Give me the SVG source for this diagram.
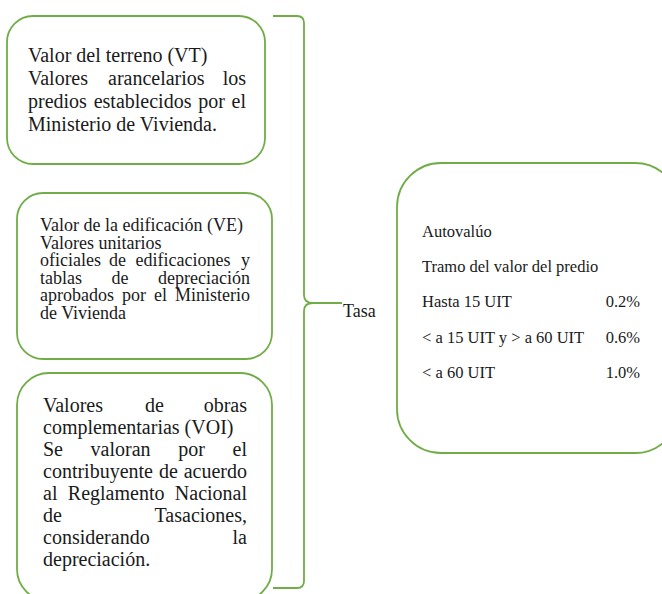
<svg xmlns="http://www.w3.org/2000/svg" width="662" height="594" viewBox="0 0 662 594">
<style>
.box{fill:#fff;stroke:#70ad47;stroke-width:1.8}
.conn{fill:none;stroke:#70ad47;stroke-width:1.8}
text{font-family:"Liberation Serif","Times New Roman",serif;fill:#1a1a1a}
.t20{font-size:20px}
.t18{font-size:18px}
.t17{font-size:16.5px}
.e{text-anchor:end}
</style>
<rect width="662" height="594" fill="#fff"/>
<g id="vt">
<rect class="box" x="7" y="16" width="258" height="148" rx="26"/>
<text class="t20" x="28" y="62">Valor del terreno (VT)</text>
<text class="t20" y="85"><tspan x="28">Valores</tspan><tspan x="108">arancelarios</tspan><tspan x="246" class="e">los</tspan></text>
<text class="t20" y="108"><tspan x="28">predios</tspan><tspan x="93.7">establecidos</tspan><tspan x="198.2">por</tspan><tspan x="246" class="e">el</tspan></text>
<text class="t20" x="28" y="131">Ministerio de Vivienda.</text>
</g>
<g id="ve">
<rect class="box" x="17" y="193" width="255" height="166" rx="26"/>
<text class="t18" x="40" y="231">Valor de la edificación (VE)</text>
<text class="t18" x="40" y="248.5">Valores unitarios</text>
<text class="t18" y="266"><tspan x="40">oficiales</tspan><tspan x="109">de</tspan><tspan x="135.5">edificaciones</tspan><tspan x="250" class="e">y</tspan></text>
<text class="t18" y="283.5"><tspan x="40">tablas</tspan><tspan x="111.5">de</tspan><tspan x="250" class="e">depreciación</tspan></text>
<text class="t18" y="301"><tspan x="40">aprobados</tspan><tspan x="122">por</tspan><tspan x="154">el</tspan><tspan x="250" class="e">Ministerio</tspan></text>
<text class="t18" x="40" y="318.5">de Vivienda</text>
</g>
<g id="voi">
<rect class="box" x="17" y="373" width="255" height="228" rx="32"/>
<text class="t20" y="412"><tspan x="43">Valores</tspan><tspan x="145">de</tspan><tspan x="247" class="e">obras</tspan></text>
<text class="t20" x="43" y="434">complementarias (VOI)</text>
<text class="t20" y="456"><tspan x="43">Se</tspan><tspan x="90.6">valoran</tspan><tspan x="178.2">por</tspan><tspan x="247" class="e">el</tspan></text>
<text class="t20" y="478"><tspan x="43">contribuyente</tspan><tspan x="158.9">de</tspan><tspan x="247" class="e">acuerdo</tspan></text>
<text class="t20" y="500"><tspan x="43">al</tspan><tspan x="67.8">Reglamento</tspan><tspan x="247" class="e">Nacional</tspan></text>
<text class="t20" y="522"><tspan x="43">de</tspan><tspan x="247" class="e">Tasaciones,</tspan></text>
<text class="t20" y="544"><tspan x="43">considerando</tspan><tspan x="247" class="e">la</tspan></text>
<text class="t20" x="43" y="566">depreciación.</text>
</g>
<g id="connectors">
<path class="conn" d="M273,16 L297,16 Q304,16 304,23 L304,295 Q304,303 313,303 L342,303 M313,303 Q304,303 304,311 L304,581 Q304,588 297,588 L273,588"/>
</g>
<g id="tasa">
<text class="t18" x="343" y="317">Tasa</text>
</g>
<g id="autovaluo">
<rect class="box" x="397" y="163" width="282" height="290" rx="44"/>
<text class="t17" x="422" y="237">Autovalúo</text>
<text class="t17" x="422" y="272">Tramo del valor del predio</text>
<text class="t17" x="422" y="307">Hasta 15 UIT</text>
<text class="t17 e" x="640" y="307">0.2%</text>
<text class="t17" x="422" y="342.5">&lt; a 15 UIT y &gt; a 60 UIT</text>
<text class="t17 e" x="640" y="342.5">0.6%</text>
<text class="t17" x="422" y="378">&lt; a 60 UIT</text>
<text class="t17 e" x="640" y="378">1.0%</text>
</g>
</svg>
